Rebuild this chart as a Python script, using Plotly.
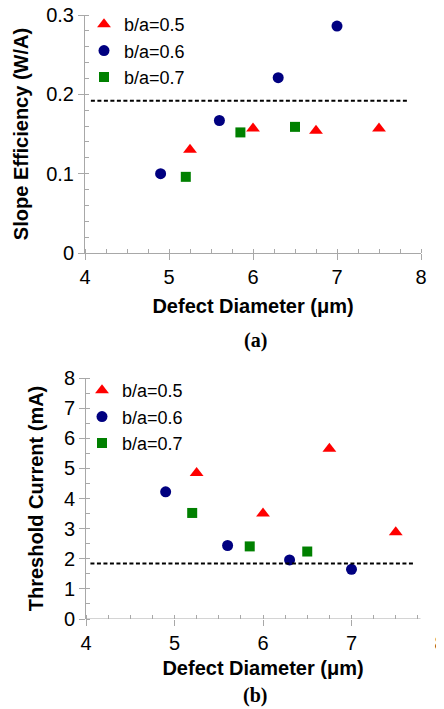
import plotly.graph_objects as go

# ---- data ----
series_names = ["b/a=0.5", "b/a=0.6", "b/a=0.7"]
colors = ["#ff0000", "#000080", "#008000"]
symbols = ["triangle-up", "circle", "square"]
sizes = [12, 11, 10]

# (a) slope efficiency
x_a_05 = [5.25, 6.0, 6.75, 7.5]
y_a_05 = [0.130, 0.157, 0.154, 0.157]
x_a_06 = [4.9, 5.6, 6.3, 7.0]
y_a_06 = [0.100, 0.167, 0.221, 0.286]
x_a_07 = [5.2, 5.85, 6.5]
y_a_07 = [0.096, 0.152, 0.159]
ref_a_x = [4.07, 7.85]
ref_a_y = [0.192, 0.192]

# (b) threshold current
x_b_05 = [5.25, 6.0, 6.75, 7.5]
y_b_05 = [4.85, 3.5, 5.65, 2.88]
x_b_06 = [4.9, 5.6, 6.3, 7.0]
y_b_06 = [4.22, 2.44, 1.96, 1.65]
x_b_07 = [5.2, 5.85, 6.5]
y_b_07 = [3.52, 2.41, 2.24]
ref_b_x = [4.05, 7.7]
ref_b_y = [1.84, 1.84]

x_ticks = [4, 5, 6, 7, 8]
y_ticks_a = [0, 0.1, 0.2, 0.3]
y_ticks_b = [0, 1, 2, 3, 4, 5, 6, 7, 8]

FONT = "Liberation Sans, Arial, sans-serif"
AXC = "#a8a8a8"
DASH = "4px,2.5px"

fig = go.Figure()

data_a = [(x_a_05, y_a_05), (x_a_06, y_a_06), (x_a_07, y_a_07)]
data_b = [(x_b_05, y_b_05), (x_b_06, y_b_06), (x_b_07, y_b_07)]

for i, (xs, ys) in enumerate(data_a):
    fig.add_trace(go.Scatter(x=xs, y=ys, mode="markers", name=series_names[i],
                             marker=dict(color=colors[i], symbol=symbols[i], size=sizes[i]),
                             xaxis="x", yaxis="y", legend="legend"))
fig.add_trace(go.Scatter(x=ref_a_x, y=ref_a_y, mode="lines", showlegend=False,
                         line=dict(color="black", width=2, dash=DASH),
                         xaxis="x", yaxis="y"))

for i, (xs, ys) in enumerate(data_b):
    fig.add_trace(go.Scatter(x=xs, y=ys, mode="markers", name=series_names[i],
                             marker=dict(color=colors[i], symbol=symbols[i], size=sizes[i]),
                             xaxis="x2", yaxis="y2", legend="legend2"))
fig.add_trace(go.Scatter(x=ref_b_x, y=ref_b_y, mode="lines", showlegend=False,
                         line=dict(color="black", width=2, dash=DASH),
                         xaxis="x2", yaxis="y2"))

# page body has an 8px margin: the figure starts at (8, 8)
OFF = 8
W, H = 444 - OFF, 709 - OFF

def px_x(p):
    return (p - OFF) / W

def px_y(p):
    return 1 - (p - OFF) / H

common_x = dict(showgrid=False, zeroline=False, ticks="outside", ticklen=6, tickcolor=AXC,
                tickwidth=1, tickfont=dict(family=FONT, size=20, color="black"), automargin=False,
                ticklabeloverflow="allow",
                minor=dict(dtick=0.25, ticks="inside", ticklen=4, tickcolor=AXC, tickwidth=1))
common_y = dict(showgrid=False, zeroline=False, showline=True, linecolor=AXC, linewidth=1,
                ticks="outside", ticklen=6, tickcolor=AXC, tickwidth=1, automargin=False,
                ticklabeloverflow="allow",
                tickfont=dict(family=FONT, size=20, color="black"))
xtitle_font = dict(family=FONT, size=20, color="black")
cap_font = dict(family="Liberation Serif, Times New Roman, serif", size=20, color="black")

fig.update_layout(
    width=W, height=H, margin=dict(l=0, r=0, t=0, b=0, autoexpand=False),
    paper_bgcolor="white", plot_bgcolor="white",
    xaxis=dict(common_x, domain=[px_x(85), px_x(421)], range=[4, 8], tickvals=x_ticks,
               showline=True, linecolor=AXC, linewidth=1, anchor="y",
               title=dict(text="<b>Defect Diameter (μm)</b>", font=xtitle_font, standoff=11)),
    yaxis=dict(common_y, domain=[px_y(253), px_y(15)], range=[0, 0.3], tickvals=y_ticks_a,
               ticktext=["0", "0.1", "0.2", "0.3"],
               minor=dict(dtick=0.02, ticks="inside", ticklen=4, tickcolor=AXC, tickwidth=1),
               title=dict(text="<b>Slope Efficiency (W/A)</b>", font=xtitle_font, standoff=12),
               anchor="x"),
    xaxis2=dict(common_x, domain=[px_x(86), px_x(440)], range=[4, 8], tickvals=x_ticks,
                showline=False, anchor="y2",
                title=dict(text="<b>Defect Diameter (μm)</b>", font=xtitle_font, standoff=7)),
    yaxis2=dict(common_y, domain=[px_y(619), px_y(378)], range=[0, 8], tickvals=y_ticks_b,
                minor=dict(dtick=0.5, ticks="inside", ticklen=4, tickcolor=AXC, tickwidth=1),
                title=dict(text="<b>Threshold Current (mA)</b>", font=xtitle_font, standoff=14),
                anchor="x2"),
    legend=dict(x=px_x(84), y=px_y(6), xanchor="left", yanchor="top", bgcolor="rgba(0,0,0,0)",
                font=dict(family=FONT, size=18, color="black"), itemwidth=30, tracegroupgap=0),
    legend2=dict(x=px_x(82), y=px_y(372), xanchor="left", yanchor="top", bgcolor="rgba(0,0,0,0)",
                 font=dict(family=FONT, size=18, color="black"), itemwidth=30, tracegroupgap=0),
    shapes=[dict(type="line", xref="x2", yref="y2", x0=4, x1=7.78, y0=0, y1=0,
                 line=dict(color=AXC, width=1))],
    annotations=[
        dict(text="<b>(a)</b>", x=px_x(255), y=px_y(340), xref="paper", yref="paper",
             xanchor="center", yanchor="middle", showarrow=False, font=cap_font),
        dict(text="<b>(b)</b>", x=px_x(255), y=px_y(695), xref="paper", yref="paper",
             xanchor="center", yanchor="middle", showarrow=False, font=cap_font),
    ],
    showlegend=True,
)

fig.write_html("out.html")
